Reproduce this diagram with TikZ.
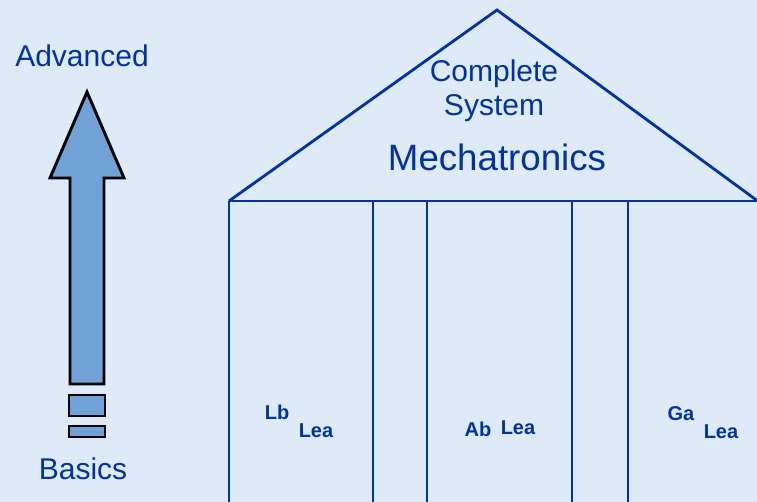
\documentclass[tikz,border=0pt]{standalone}
\usepackage{fontspec}
\setmainfont{Liberation Sans}
\definecolor{bgblue}{RGB}{222,234,247}
\definecolor{linblue}{RGB}{0,51,160}
\definecolor{arrfill}{RGB}{112,162,216}

\begin{document}
\begin{tikzpicture}[x=0.75pt,y=-0.75pt,
    houseline/.style={draw=linblue, line width=2.1pt},
    arrowline/.style={draw=black, line width=2.2pt, fill=arrfill},
    label/.style={text=linblue, inner sep=0pt, font=\fontsize{22.5}{24}\selectfont},
    glyph/.style={text=linblue, inner sep=0pt, font=\bfseries\fontsize{15}{15}\selectfont}]

% Background
\fill[bgblue] (0,0) rectangle (757,502);
\useasboundingbox (0,0) rectangle (757,502);

% Roof
\draw[houseline] (229,201) -- (497,10) -- (770,210);
\draw[houseline] (229,201) -- (757,201);

% Pillars
\foreach \px in {229,373,427,572,628}
    \draw[houseline] (\px,201) -- (\px,502);

% Roof texts
\node[label] (complete) at (494,74) {Complete};
\node[label] (system) at (494,108) {System};
\node[label, font=\fontsize{27.5}{30}\selectfont] (mecha) at (497,157) {Mechatronics};

% Pillar texts (as printed)
\node[glyph] (p1a) at (277,412) {Lb};
\node[glyph] (p1b) at (316,431) {Lea};
\node[glyph] (p2a) at (478,429) {Ab};
\node[glyph] (p2b) at (518,428) {Lea};
\node[glyph] (p3a) at (681,414) {Ga};
\node[glyph] (p3b) at (721,432) {Lea};

% Arrow with broken tail
\draw[arrowline] (70,384) -- (70,178) -- (50,178) -- (87,92) -- (124,178)
    -- (104,178) -- (104,384) -- cycle;
\draw[arrowline] (69,395) rectangle (105,416);
\draw[arrowline] (69,426) rectangle (105,437);

% Arrow texts
\node[label] (adv) at (82,56) {Advanced};
\node[label] (basics) at (83,469) {Basics};

\end{tikzpicture}
\end{document}
